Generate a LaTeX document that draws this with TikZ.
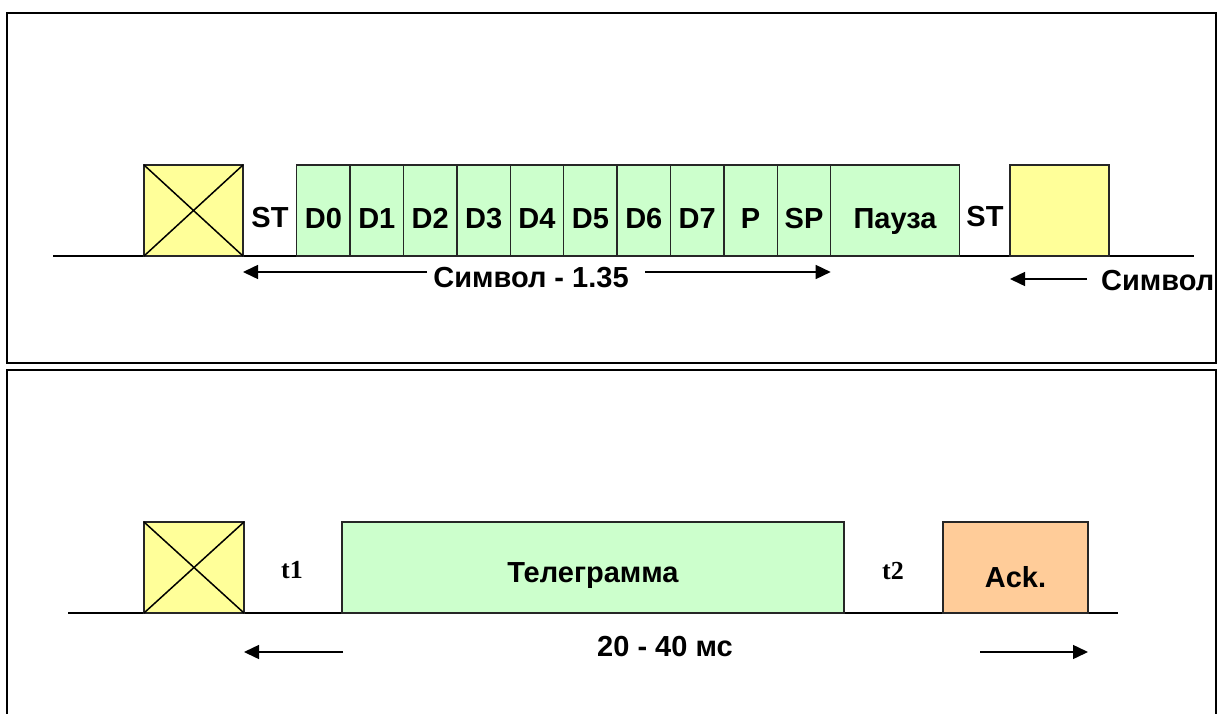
\documentclass[tikz,border=0pt]{standalone}
\usepackage{fontspec}
\setmainfont{Liberation Sans}
\newfontfamily\serifbold{Liberation Serif}
\usetikzlibrary{arrows.meta,positioning}

\definecolor{frameyellow}{HTML}{FFFF99}
\definecolor{bitgreen}{HTML}{CCFFCC}
\definecolor{ackorange}{HTML}{FFCC99}

\begin{document}
\begin{tikzpicture}[
  x=1pt, y=-1pt,
  font=\bfseries\fontsize{29}{33}\selectfont,
  cell/.style={
     rectangle, draw=black!85, line width=1.5pt,
     inner sep=0pt, outer sep=0pt,
     minimum height=91pt, anchor=south west,
     text height=37pt, text depth=0pt},
  field/.style={cell, fill=bitgreen, minimum width=53.4pt},
  busy/.style={cell, fill=frameyellow, minimum width=99pt},
  line/.style={line width=1.5pt},
  arrow/.style={-{Triangle[length=15pt,width=14pt]}, line width=1.5pt},
  tlabel/.style={font=\serifbold\bfseries\fontsize{26}{30}\selectfont},
  panel/.style={draw, line width=2pt}]
\useasboundingbox (0,0) rectangle (1218,714);
% frames
\draw[panel] (7,13) rectangle (1216,363);
\draw[panel] (7,370) rectangle (1216,740);

% character frame
\draw[line] (53,256) -- (1194,256);
\node[busy] (busy) at (144,256) {};
\draw[line] (busy.north west) -- (busy.south east)
            (busy.south west) -- (busy.north east);
\node (st) at (270,218) {ST};
\node[field] (d0) at (296.7,256) {D0};
\foreach \i [remember=\i as \j (initially 0)] in {1,...,7}
  \node[field, right=0pt of d\j] (d\i) {D\i};
\node[field, right=0pt of d7] (par) {P};
\node[field, right=0pt of par] (stop) {SP};
\node[field, right=0pt of stop, minimum width=128.6pt] (pause) {Пауза};
\node (st2) at (985,217) {ST};
\node[busy] (next) at (1010,256) {};

\node (sym) at (531,278) {Символ - 1.35};
\coordinate (a1) at (427,272);
\coordinate (a2) at (645,272);
\draw[arrow] (a1) -- (a1 -| busy.east);
\draw[arrow] (a2) -- (a2 -| pause.west);
\node[anchor=west, inner sep=0pt] (sym2) at (1101,281) {Символ};
\coordinate (a3) at (1087,279);
\draw[arrow] (a3) -- (a3 -| next.west);

% telegram frame
\draw[line] (68,613) -- (1118,613);
\node[busy, minimum width=100pt] (busyB) at (144,613) {};
\draw[line] (busyB.north west) -- (busyB.south east)
            (busyB.south west) -- (busyB.north east);
\node[tlabel] (t1) at (292,570) {t1};
\node[cell, fill=bitgreen, minimum width=502pt, text height=29pt] (tele) at (342,613) {Телеграмма};
\node[tlabel] (t2) at (893,571) {t2};
\node[cell, fill=ackorange, minimum width=145pt, text height=39pt] (ack) at (943,613) {Ack.};

\node (dur) at (665,647) {20 - 40 мс};
\coordinate (b1) at (343,652);
\coordinate (b2) at (980,652);
\draw[arrow] (b1) -- (b1 -| busyB.east);
\draw[arrow] (b2) -- (b2 -| ack.east);
\end{tikzpicture}
\end{document}
